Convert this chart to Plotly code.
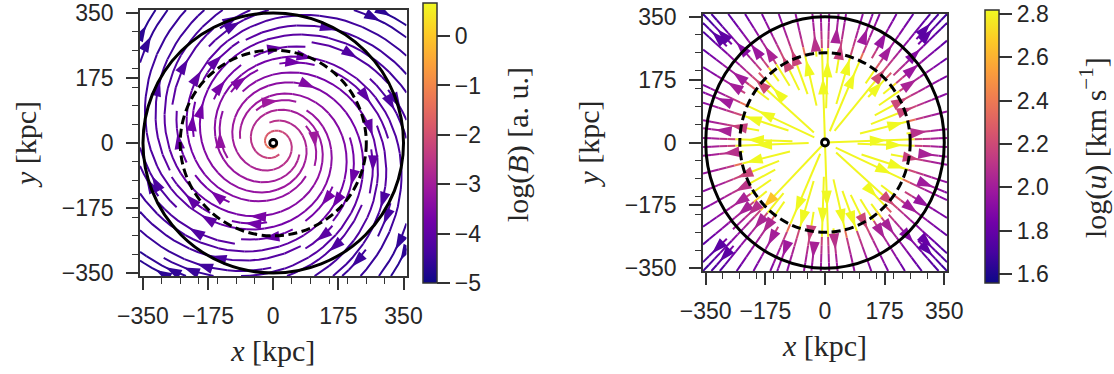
import math
import numpy as np
import plotly.graph_objects as go
from plotly.colors import sample_colorscale

# ------------------------------------------------------------------
# Values
# ------------------------------------------------------------------
AXIS_LIMIT = 358.0                       # kpc, half width of each panel
TICK_VALUES = [-350, -175, 0, 175, 350]
TICK_LABELS = ["\u2212350", "\u2212175", "0", "175", "350"]
MINOR_STEP = 50
R_OUTER = 350.0                          # solid circle radius (kpc)
R_INNER = 250.0                          # dashed circle radius (kpc)

# left panel: spiral magnetic field, colour = log(B)
B_PITCH_DEG = 14.0
B_RADIUS = [0, 10, 25, 50, 100, 175, 250, 350, 510]
B_LOG = [0.6, -0.9, -1.8, -2.5, -3.0, -3.45, -3.9, -4.35, -4.8]
B_CRANGE = [-5.0, 0.67]
B_TICKS = [0, -1, -2, -3, -4, -5]
B_TICKTEXT = ["0", "\u22121", "\u22122", "\u22123", "\u22124", "\u22125"]
B_TITLE = "log(<i>B</i>) [a. u.]"

# right panel: radial velocity field, colour = log(u)
U_RADIUS = [0, 240, 252, 300, 350, 420, 510]
U_LOG = [3.0, 2.85, 2.22, 2.05, 1.95, 1.8, 1.65]
U_CRANGE = [1.559, 2.818]
U_TICKS = [1.6, 1.8, 2.0, 2.2, 2.4, 2.6, 2.8]
U_TICKTEXT = ["1.6", "1.8", "2.0", "2.2", "2.4", "2.6", "2.8"]
U_TITLE = "log(<i>u</i>) [km s<sup>\u22121</sup>]"

# ------------------------------------------------------------------
# Field directions
# ------------------------------------------------------------------
def b_direction(x, y):
    r = math.hypot(x, y)
    if r < 1e-9:
        return 0.0, 0.0
    p = math.radians(B_PITCH_DEG)
    ex, ey = y / r, -x / r          # clockwise azimuthal
    rx, ry = x / r, y / r           # radial
    return (math.cos(p) * ex + math.sin(p) * rx,
            math.cos(p) * ey + math.sin(p) * ry)


def u_direction(x, y):
    r = math.hypot(x, y)
    if r < 1e-9:
        return 0.0, 0.0
    return x / r, y / r


# ------------------------------------------------------------------
# Streamline tracing (same scheme as matplotlib's streamplot)
# ------------------------------------------------------------------
class _Stop(Exception):
    pass


class _OOB(Exception):
    pass


class _Blocked(Exception):
    pass


def trace_streamlines(direction, xlim, ylim, density=1.0):
    n = int(30 * density)
    mask = np.zeros((n, n), dtype=np.int8)
    W = xlim[1] - xlim[0]
    H = ylim[1] - ylim[0]
    state = {"cur": None, "traj": []}

    def within(X, Y):
        return 0 <= X <= 1 and 0 <= Y <= 1

    def to_mask(X, Y):
        return int(round(X * (n - 1))), int(round(Y * (n - 1)))

    def update(X, Y):
        if not within(X, Y):
            raise _Blocked
        xm, ym = to_mask(X, Y)
        if state["cur"] != (xm, ym):
            if mask[ym, xm] == 0:
                state["traj"].append((ym, xm))
                mask[ym, xm] = 1
                state["cur"] = (xm, ym)
            else:
                raise _Blocked

    def field(X, Y, sign):
        if not within(X, Y):
            raise _OOB
        dx, dy = direction(xlim[0] + X * W, ylim[0] + Y * H)
        dX, dY = dx / W, dy / H
        s = math.hypot(dX, dY)
        if s == 0:
            raise _Stop
        return sign * dX / s, sign * dY / s

    def euler(traj, sign):
        X, Y = traj[-1]
        cx, cy = field(X, Y, sign)
        dsx = math.inf if cx == 0 else (X / -cx if cx < 0 else (1 - X) / cx)
        dsy = math.inf if cy == 0 else (Y / -cy if cy < 0 else (1 - Y) / cy)
        ds = min(dsx, dsy)
        traj.append((X + cx * ds, Y + cy * ds))
        return ds

    def rk12(X0, Y0, sign, maxlength=4.0):
        maxerror = 0.003
        maxds = min(1.0 / n, 0.1)
        ds = maxds
        stotal = 0.0
        X, Y = X0, Y0
        traj = []
        while True:
            try:
                if within(X, Y):
                    traj.append((X, Y))
                else:
                    raise _OOB
                k1x, k1y = field(X, Y, sign)
                k2x, k2y = field(X + ds * k1x, Y + ds * k1y, sign)
            except _OOB:
                if traj:
                    try:
                        stotal += euler(traj, sign)
                    except _Stop:
                        pass
                break
            except _Stop:
                break
            dx1, dy1 = ds * k1x, ds * k1y
            dx2, dy2 = ds * 0.5 * (k1x + k2x), ds * 0.5 * (k1y + k2y)
            err = math.hypot(dx2 - dx1, dy2 - dy1)
            if err < maxerror:
                X += dx2
                Y += dy2
                try:
                    update(X, Y)
                except _Blocked:
                    break
                if stotal + ds > maxlength:
                    break
                stotal += ds
            ds = maxds if err == 0 else min(maxds, 0.85 * ds * (maxerror / err) ** 0.5)
        return stotal, traj

    def integrate(X0, Y0):
        state["traj"] = []
        try:
            update(X0, Y0)
        except _Blocked:
            return None
        s1, t1 = rk12(X0, Y0, -1)
        state["cur"] = to_mask(X0, Y0)
        s2, t2 = rk12(X0, Y0, +1)
        traj = t1[::-1] + t2[1:]
        if s1 + s2 > 0.1:
            return traj
        for cell in state["traj"]:
            mask[cell] = 0
        return None

    def starting_points():
        xfirst, yfirst, xlast, ylast = 0, 1, n - 1, n - 1
        x, y = 0, 0
        d = "right"
        for _ in range(n * n):
            yield x, y
            if d == "right":
                x += 1
                if x >= xlast:
                    xlast -= 1
                    d = "up"
            elif d == "up":
                y += 1
                if y >= ylast:
                    ylast -= 1
                    d = "left"
            elif d == "left":
                x -= 1
                if x <= xfirst:
                    xfirst += 1
                    d = "down"
            else:
                y -= 1
                if y <= yfirst:
                    yfirst += 1
                    d = "right"

    lines = []
    for xm, ym in starting_points():
        if mask[ym, xm] == 0:
            t = integrate(xm / (n - 1), ym / (n - 1))
            if t is not None and len(t) > 1:
                arr = np.array(t)
                lines.append((xlim[0] + arr[:, 0] * W, ylim[0] + arr[:, 1] * H))
    return lines


# ------------------------------------------------------------------
# Layout geometry (pixels of the 1114 x 374 canvas)
# ------------------------------------------------------------------
FIG_W, FIG_H = 1114, 374
PANELS = {
    "left": dict(x0=140, x1=406.5, y0=10, y1=276, cbx=423, cbt=3, cbb=283,
                 title_x=518, title_y=145),
    "right": dict(x0=703, x1=947, y0=14, y1=271, cbx=985, cbt=10, cbb=283,
                  title_x=1093, title_y=148),
}

AX_COLOR = "#333333"
TXT_COLOR = "#262626"
SANS = "Liberation Sans, Arial, sans-serif"
SERIF = "Liberation Serif, Times New Roman, serif"
TICK_SIZE = 23
TITLE_SIZE = 30
N_BINS = 64

fig = go.Figure()


def add_panel(name, direction, radius, logs, crange, xa, ya, cb_title, cb_ticks, cb_text):
    geo = PANELS[name]
    lim = [-AXIS_LIMIT, AXIS_LIMIT]
    lines = trace_streamlines(direction, lim, lim)
    sx = (geo["x1"] - geo["x0"]) / (2 * AXIS_LIMIT)
    sy = (geo["y1"] - geo["y0"]) / (2 * AXIS_LIMIT)
    cmin, cmax = crange

    def value(x, y):
        return np.interp(np.hypot(x, y), radius, logs)

    bins = {b: ([], []) for b in range(N_BINS)}
    ax_x, ax_y, ax_c, ax_a = [], [], [], []
    for tx, ty in lines:
        vals = value(tx, ty)
        b = np.clip(((vals - cmin) / (cmax - cmin) * N_BINS).astype(int), 0, N_BINS - 1)
        seg_b = b[:-1]
        i = 0
        m = len(seg_b)
        while i < m:
            j = i
            while j + 1 < m and seg_b[j + 1] == seg_b[i]:
                j += 1
            bx, by = bins[int(seg_b[i])]
            bx.extend(list(tx[i:j + 2]) + [None])
            by.extend(list(ty[i:j + 2]) + [None])
            i = j + 1
        # arrow at the middle of each streamline
        s = np.cumsum(np.hypot(np.diff(tx), np.diff(ty)))
        k = int(np.searchsorted(s, s[-1] / 2.0))
        k = min(k, len(tx) - 2)
        kk = k
        while kk + 1 < len(tx) and tx[kk + 1] == tx[k] and ty[kk + 1] == ty[k]:
            kk += 1
        if kk + 1 >= len(tx):
            continue
        hx = 0.5 * (tx[k] + tx[kk + 1])
        hy = 0.5 * (ty[k] + ty[kk + 1])
        dx, dy = tx[kk + 1] - tx[k], ty[kk + 1] - ty[k]
        ax_x.append(hx)
        ax_y.append(hy)
        ax_c.append(float(vals[k]))
        ax_a.append(math.degrees(math.atan2(dx * sx, dy * sy)))

    for b in range(N_BINS):
        bx, by = bins[b]
        if not bx:
            continue
        col = sample_colorscale("Plasma", [(b + 0.5) / N_BINS])[0]
        fig.add_trace(go.Scatter(x=bx, y=by, mode="lines", xaxis=xa, yaxis=ya,
                                 line=dict(color=col, width=2), hoverinfo="skip",
                                 showlegend=False))

    cb_len = (geo["cbb"] - geo["cbt"]) / FIG_H
    cb_y = 1 - (geo["cbt"] + geo["cbb"]) / 2 / FIG_H
    fig.add_trace(go.Scatter(
        x=ax_x, y=ax_y, mode="markers", xaxis=xa, yaxis=ya, showlegend=False,
        hoverinfo="skip",
        marker=dict(symbol="arrow", size=17, angle=ax_a, color=ax_c,
                    colorscale="Plasma", cmin=cmin, cmax=cmax, line=dict(width=0),
                    showscale=True,
                    colorbar=dict(
                        x=geo["cbx"] / FIG_W, xanchor="left", xref="paper",
                        y=cb_y, yanchor="middle", len=cb_len, lenmode="fraction",
                        thickness=14, thicknessmode="pixels", xpad=0, ypad=0,
                        outlinecolor=AX_COLOR, outlinewidth=1.5,
                        ticks="outside", ticklen=13, tickwidth=1.5, tickcolor=AX_COLOR,
                        tickvals=cb_ticks, ticktext=cb_text,
                        ticklabeloverflow="allow",
                        tickfont=dict(family=SANS, size=TICK_SIZE, color=TXT_COLOR),
                    ))))

    # colour-bar title, rotated like the reference
    fig.add_annotation(text=cb_title, xref="paper", yref="paper",
                       x=geo["title_x"] / FIG_W, y=1 - geo["title_y"] / FIG_H,
                       xanchor="center", yanchor="middle", textangle=-90,
                       showarrow=False,
                       font=dict(family=SERIF, size=TITLE_SIZE, color=TXT_COLOR))

    # centre marker
    fig.add_trace(go.Scatter(x=[0], y=[0], mode="markers", xaxis=xa, yaxis=ya,
                             showlegend=False, hoverinfo="skip",
                             marker=dict(symbol="circle", size=7, color="white",
                                         line=dict(color="black", width=2.8))))

    xref = "x" if xa == "x" else "x2"
    yref = "y" if ya == "y" else "y2"
    fig.add_shape(type="circle", xref=xref, yref=yref, x0=-R_OUTER, x1=R_OUTER,
                  y0=-R_OUTER, y1=R_OUTER, line=dict(color="black", width=3), layer="above")
    fig.add_shape(type="circle", xref=xref, yref=yref, x0=-R_INNER, x1=R_INNER,
                  y0=-R_INNER, y1=R_INNER,
                  line=dict(color="black", width=3, dash="9px,4.5px"), layer="above")

    axis_common = dict(
        range=[-AXIS_LIMIT, AXIS_LIMIT], tickvals=TICK_VALUES, ticktext=TICK_LABELS,
        ticks="outside", ticklen=12, tickwidth=1.5, tickcolor=AX_COLOR,
        showline=True, linecolor=AX_COLOR, linewidth=1.5, mirror=True,
        showgrid=False, zeroline=False, fixedrange=True, automargin=False,
        tickfont=dict(family=SANS, size=TICK_SIZE, color=TXT_COLOR),
        minor=dict(dtick=MINOR_STEP, tick0=0, ticks="outside", ticklen=6,
                   tickwidth=1.2, tickcolor=AX_COLOR, showgrid=False),
    )
    xkey = "xaxis" if xa == "x" else "xaxis2"
    ykey = "yaxis" if ya == "y" else "yaxis2"
    fig.update_layout({
        xkey: dict(axis_common, anchor=ya, ticklabelstandoff=7,
                   domain=[geo["x0"] / FIG_W, geo["x1"] / FIG_W],
                   title=dict(text="<i>x</i> [kpc]", standoff=12,
                              font=dict(family=SERIF, size=TITLE_SIZE, color=TXT_COLOR))),
        ykey: dict(axis_common, anchor=xa, ticklabelstandoff=8,
                   domain=[1 - geo["y1"] / FIG_H, 1 - geo["y0"] / FIG_H],
                   title=dict(text="<i>y</i> [kpc]", standoff=16,
                              font=dict(family=SERIF, size=TITLE_SIZE, color=TXT_COLOR))),
    })


add_panel("left", b_direction, B_RADIUS, B_LOG, B_CRANGE, "x", "y",
          B_TITLE, B_TICKS, B_TICKTEXT)
add_panel("right", u_direction, U_RADIUS, U_LOG, U_CRANGE, "x2", "y2",
          U_TITLE, U_TICKS, U_TICKTEXT)

fig.update_layout(
    template="none",
    width=FIG_W, height=FIG_H,
    margin=dict(l=0, r=0, t=0, b=0, autoexpand=False),
    paper_bgcolor="white", plot_bgcolor="white",
    showlegend=False,
)

# the page's default body margin would offset the figure by 8 px
fig.write_html("out.html", config={"displayModeBar": False},
               post_script="document.body.style.margin='0px';")
